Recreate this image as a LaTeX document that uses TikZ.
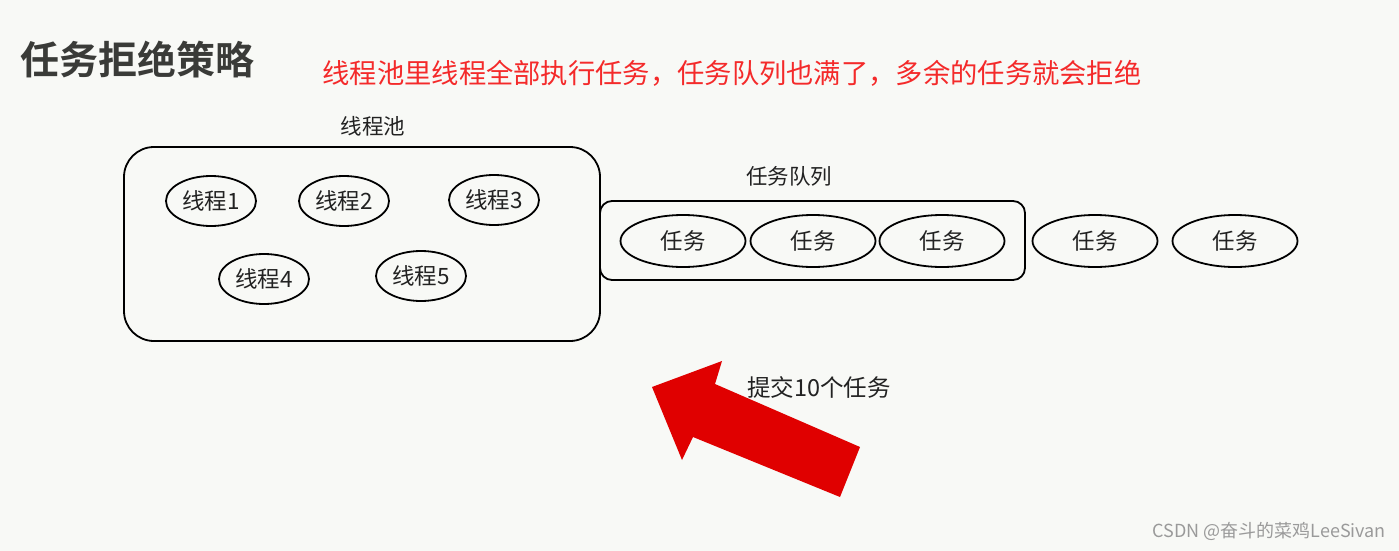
\documentclass[tikz,border=0pt]{standalone}
\usepackage{fontspec}
\newfontfamily\cjk{Noto Sans CJK SC}
\newfontfamily\cjkb{Noto Sans CJK SC Bold}
\usetikzlibrary{shapes.geometric}
\definecolor{bg}{HTML}{F8F9F6}
\definecolor{ttl}{HTML}{3A3B38}
\definecolor{redtxt}{HTML}{F42A2A}
\definecolor{arrowred}{HTML}{E00000}
\definecolor{txt}{HTML}{222222}
\definecolor{wm}{HTML}{9A9A9A}
\tikzset{
  thread/.style={draw=black, line width=1.8pt, ellipse, minimum width=90pt, minimum height=50pt, inner sep=0pt, font=\cjk\fontsize{22.5}{24}\selectfont, text=txt},
  task/.style={draw=black, line width=1.8pt, ellipse, minimum width=125pt, minimum height=52pt, inner sep=0pt, font=\cjk\fontsize{22.5}{24}\selectfont, text=txt},
  lbl/.style={font=\cjk\fontsize{21.5}{24}\selectfont, text=txt, inner sep=0pt},
  box/.style={draw=black, line width=1.8pt}
}
\begin{document}
\begin{tikzpicture}[x=1pt,y=-1pt]
\fill[bg] (0,0) rectangle (1399,551);
\useasboundingbox (0,0) rectangle (1399,551);
% title
\node[font=\cjkb\fontsize{39}{41}\selectfont, text=ttl, inner sep=0pt] (title) at (137,60) {任务拒绝策略};
\node[font=\cjk\fontsize{27.3}{30}\selectfont, text=redtxt, inner sep=0pt] (note) at (732,73) {线程池里线程全部执行任务，任务队列也满了，多余的任务就会拒绝};
% thread pool
\node[lbl] (poollbl) at (373,126) {线程池};
\draw[box, rounded corners=30pt] (124,147) rectangle (600,341);
\node[thread] (t1) at (211,201) {线程1};
\node[thread] (t2) at (344,201) {线程2};
\node[thread] (t3) at (494,200) {线程3};
\node[thread] (t4) at (264,279) {线程4};
\node[thread] (t5) at (421,276) {线程5};
% queue
\node[lbl] (queuelbl) at (789,176) {任务队列};
\draw[box, rounded corners=12pt] (600,201) rectangle (1025,280);
\node[task] (q1) at (683,241) {任务};
\node[task] (q2) at (813,241) {任务};
\node[task] (q3) at (942,241) {任务};
\node[task] (q4) at (1095,241) {任务};
\node[task] (q5) at (1235,241) {任务};
% arrow
\fill[arrowred] (652,387) -- (722,361) -- (715,384) -- (860,447) -- (840,497) -- (693,437) -- (682,460) -- cycle;
\node[lbl, font=\cjk\fontsize{23.5}{26}\selectfont] (submit) at (819,387) {提交10个任务};
% watermark
\node[font=\cjk\fontsize{18}{20}\selectfont, text=wm, inner sep=0pt, anchor=east] (wmark) at (1386,531) {CSDN @奋斗的菜鸡LeeSivan};
\end{tikzpicture}
\end{document}
